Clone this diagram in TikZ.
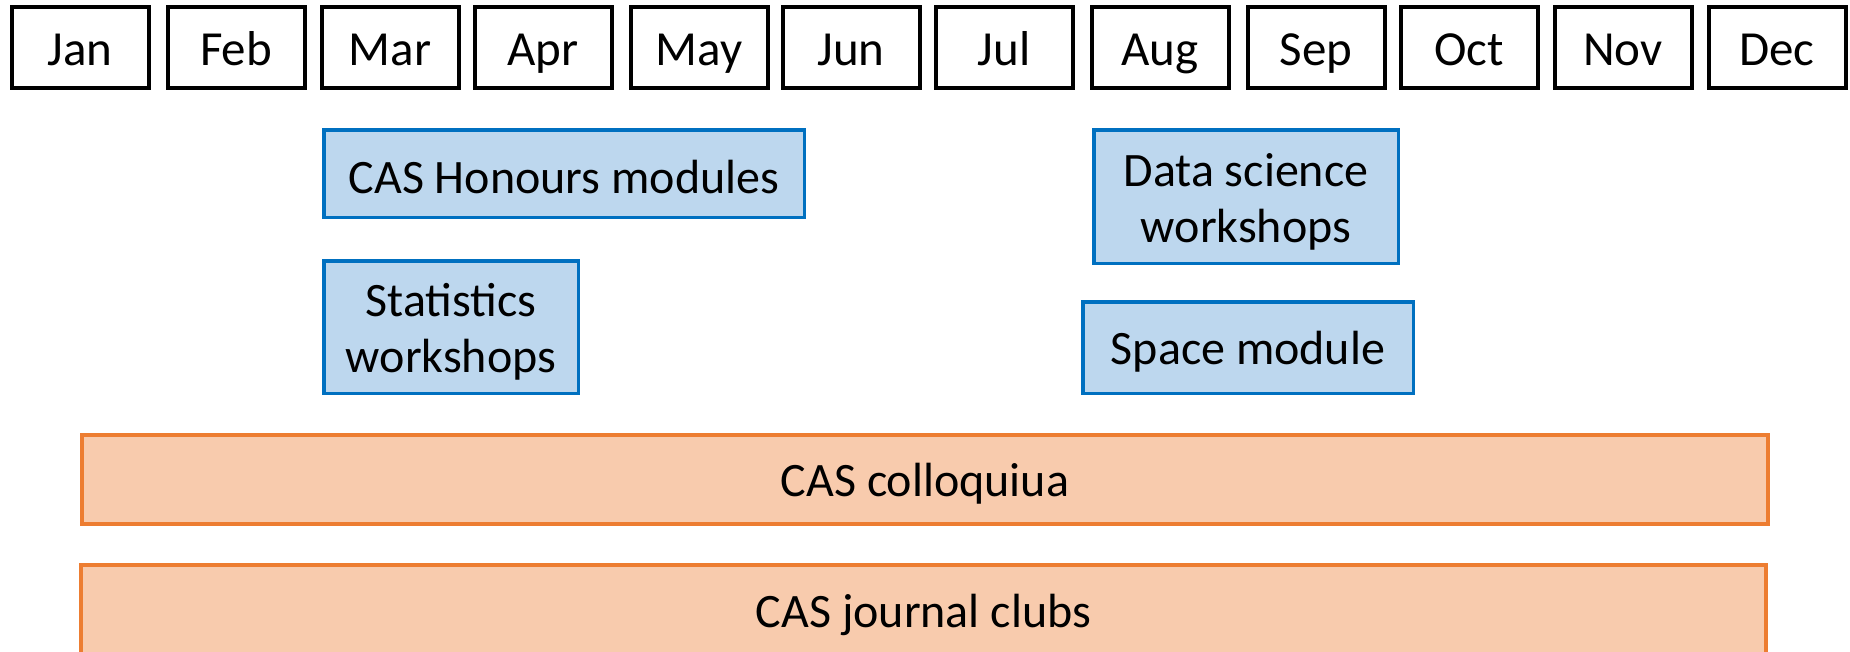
\documentclass[tikz,border=0pt]{standalone}
\usepackage{fontspec}
\setmainfont{Carlito}
\definecolor{bluefill}{HTML}{BDD7EE}
\definecolor{blueline}{HTML}{0070C0}
\definecolor{orangefill}{HTML}{F8CBAD}
\definecolor{orangeline}{HTML}{ED7D31}
\tikzset{
  monthbox/.style={draw=black, line width=4pt, fill=white, inner sep=0pt,
    minimum width=137pt, minimum height=81pt, text height=35pt, text depth=0pt,
    font=\fontsize{49}{58}\selectfont},
  bluebox/.style={draw=blueline, fill=bluefill, line width=3.5pt, inner sep=0pt},
  orangebox/.style={draw=orangeline, fill=orangefill, line width=4pt, inner sep=0pt},
  boxtext/.style={inner sep=0pt, align=center, font=\fontsize{48}{56}\selectfont},
}
\begin{document}
\begin{tikzpicture}[x=1pt,y=-1pt]
\useasboundingbox (0,0) rectangle (1850,651);
% months
\foreach \nm/\lx [count=\i] in {Jan/10,Feb/166,Mar/320,Apr/473,May/629,Jun/781,Jul/934,Aug/1090,Sep/1246,Oct/1399,Nov/1553,Dec/1707}{
  \node[monthbox] (m\i) at (\lx+70,47.5) {\nm};
}
% blue boxes
\node[bluebox, minimum width=480.5pt, minimum height=87.5pt] (honours) at (564,173.5) {};
\node[boxtext] (honoursT) at ([yshift=-4pt]honours.center) {CAS Honours modules};
\node[bluebox, minimum width=254.5pt, minimum height=132.5pt] (stats) at (451,327) {};
\node[boxtext] (statsT) at ([yshift=-5pt]stats.center) {Statistics\\workshops};
\node[bluebox, minimum width=304.5pt, minimum height=133.5pt] (datasci) at (1246,196.5) {};
\node[boxtext] (datasciT) at ([yshift=-5pt]datasci.center) {Data science\\workshops};
\node[bluebox, minimum width=330.5pt, minimum height=91.5pt] (space) at (1248,347.5) {};
\node[boxtext] (spaceT) at ([yshift=-4pt]space.center) {Space module};
% orange bars
\node[orangebox, minimum width=1686pt, minimum height=89pt] (colloq) at (925,479.5) {};
\node[boxtext] (colloqT) at ([yshift=-4pt]colloq.center) {CAS colloquiua};
\node[orangebox, minimum width=1685pt, minimum height=94pt] (journal) at (923.5,612) {};
\node[boxtext] (journalT) at ([yshift=-3pt]journal.center) {CAS journal clubs};
\end{tikzpicture}
\end{document}
